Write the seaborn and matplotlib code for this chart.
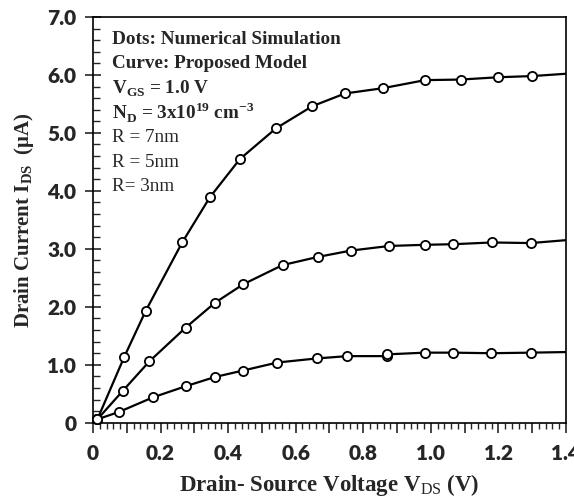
import numpy as np
import pandas as pd
import seaborn as sns
import matplotlib.pyplot as plt
from matplotlib.ticker import MultipleLocator

# simulated points (dots)
vds_7 = [0.013, 0.092, 0.156, 0.264, 0.346, 0.435, 0.542, 0.649, 0.746, 0.857, 0.983, 1.089, 1.20, 1.30]
ids_7 = [0.06, 1.13, 1.93, 3.11, 3.89, 4.55, 5.08, 5.46, 5.68, 5.77, 5.91, 5.92, 5.96, 5.98]

vds_5 = [0.013, 0.088, 0.167, 0.274, 0.361, 0.445, 0.561, 0.665, 0.763, 0.877, 0.983, 1.066, 1.18, 1.296]
ids_5 = [0.06, 0.55, 1.06, 1.64, 2.07, 2.39, 2.72, 2.86, 2.97, 3.05, 3.07, 3.08, 3.11, 3.10]

vds_3 = [0.013, 0.078, 0.178, 0.274, 0.361, 0.443, 0.546, 0.662, 0.753, 0.869, 0.869, 0.983, 1.066, 1.178, 1.296]
ids_3 = [0.06, 0.19, 0.44, 0.63, 0.79, 0.90, 1.04, 1.11, 1.15, 1.15, 1.18, 1.21, 1.21, 1.20, 1.21]

# model curves (same points, running to the right edge)
end_x = 1.4
end_7, end_5, end_3 = 6.02, 3.15, 1.22

sim = pd.concat([
    pd.DataFrame({"vds": vds_7, "ids": ids_7, "R": "7nm"}),
    pd.DataFrame({"vds": vds_5, "ids": ids_5, "R": "5nm"}),
    pd.DataFrame({"vds": vds_3, "ids": ids_3, "R": "3nm"}),
])
model = pd.concat([
    pd.DataFrame({"vds": [0.0] + vds_7 + [end_x], "ids": [0.0] + ids_7 + [end_7], "R": "7nm"}),
    pd.DataFrame({"vds": [0.0] + vds_5 + [end_x], "ids": [0.0] + ids_5 + [end_5], "R": "5nm"}),
    pd.DataFrame({"vds": [0.0] + vds_3 + [end_x], "ids": [0.0] + ids_3 + [end_3], "R": "3nm"}),
])

sns.set_style("ticks")
plt.rcParams["mathtext.fontset"] = "custom"
plt.rcParams["mathtext.rm"] = "Liberation Serif"
plt.rcParams["mathtext.bf"] = "Liberation Serif:bold"

fig = plt.figure(figsize=(5.74, 4.98), dpi=100)
ax = fig.add_axes([0.162, 0.151, 0.824, 0.815])

for r in ["7nm", "5nm", "3nm"]:
    m = model[model.R == r]
    ax.plot(m.vds, m.ids, color="black", lw=1.6, zorder=2)
sns.scatterplot(data=sim, x="vds", y="ids", ax=ax, color="white", edgecolor="black",
                linewidth=1.3, s=44, zorder=3, clip_on=False, legend=False)

ax.set_xlim(0, 1.4)
ax.set_ylim(0, 7.0)

ax.xaxis.set_major_locator(MultipleLocator(0.1))
ax.xaxis.set_minor_locator(MultipleLocator(0.02))
ax.set_xticklabels(["0" if abs(t) < 1e-9 else (f"{t:.1f}" if round(t * 10) % 2 == 0 else "")
                    for t in ax.get_xticks()])
ax.yaxis.set_major_locator(MultipleLocator(1.0))
ax.yaxis.set_minor_locator(MultipleLocator(0.2))
ax.set_yticklabels(["0" if abs(t) < 1e-9 else f"{t:.1f}" for t in ax.get_yticks()])

ax.tick_params(axis="x", which="major", direction="out", length=7, width=1.2, pad=8)
ax.tick_params(axis="x", which="minor", direction="out", length=4, width=1.0)
ax.tick_params(axis="y", which="major", direction="inout", length=12, width=1.2, pad=6)
ax.tick_params(axis="y", which="minor", direction="in", length=5, width=1.0)
for lab in ax.get_xticklabels() + ax.get_yticklabels():
    lab.set_family("Lato")
    lab.set_fontweight("heavy")
    lab.set_fontsize(15)

for s in ax.spines.values():
    s.set_linewidth(1.2)
    s.set_color("black")

ax.set_xlabel(r"Drain- Source Voltage V$_{\mathrm{DS}}$ (V)", family="Liberation Serif",
              fontweight="bold", fontsize=16.5, labelpad=7)
ax.set_ylabel(r"Drain Current I$_{\mathbf{DS}}$  ($\mathbf{\mu}$A)", family="Liberation Serif",
              fontweight="bold", fontsize=15, labelpad=8)

lines = [
    (r"Dots: Numerical Simulation", "bold"),
    (r"Curve: Proposed Model", "bold"),
    (r"V$_{\mathbf{GS}}$ = 1.0 V", "bold"),
    (r"N$_{\mathbf{D}}$ = 3x10$^{\mathbf{19}}$ cm$^{\mathbf{-3}}$", "bold"),
    ("R = 7nm", "normal"),
    ("R = 5nm", "normal"),
    ("R= 3nm", "normal"),
]
y0 = 0.945
for i, (txt, w) in enumerate(lines):
    ax.text(0.04, y0 - i * 0.0605, txt, transform=ax.transAxes, family="Liberation Serif",
            fontweight=w, fontsize=13.8, va="center", ha="left")

fig.savefig("out.png", dpi=100)
